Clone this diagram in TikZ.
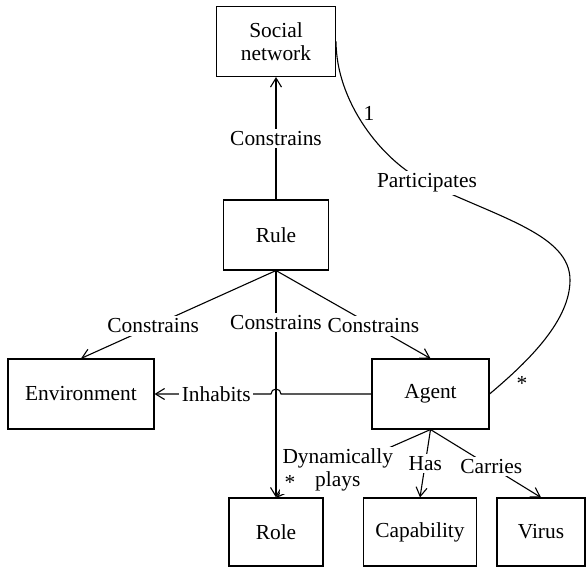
\documentclass[tikz,border=0pt]{standalone}
\usepackage{fontspec}
\setmainfont{Liberation Serif}
\usetikzlibrary{arrows.meta,positioning,calc}

\tikzset{
	box/.style={draw, line width=0.55pt, minimum height=35pt, align=center, inner sep=2pt},
	lbl/.style={fill=white, inner sep=1.2pt, align=center},
	link/.style={line width=0.55pt},
	arr/.style={link, -{Straight Barb[length=4.5pt,width=5.5pt]}}
}

\begin{document}
\begin{tikzpicture}[x=0.5pt,y=-0.5pt,font=\fontsize{10.7}{11.5}\selectfont]
		\def\xMid{276}
		\def\xEnv{81}
		\def\xAgent{430.5}
		\def\xCap{420}
		\def\xVirus{541}
		\def\ySocial{41.5}
		\def\yRule{235}
		\def\yAgent{394}
		\def\yBottom{532}
		\def\HopR{2.5pt}

\useasboundingbox (0,0) rectangle (588,567);

\node[box, minimum width=59.5pt] (social) at (\xMid,\ySocial) {Social\\network};
\node[box, minimum width=52.5pt] (rule) at (\xMid,\yRule) {Rule};
\node[box, minimum width=73pt] (env) at (\xEnv,\yAgent) {Environment};
\node[box, minimum width=58.5pt] (agent) at (\xAgent,\yAgent) {Agent};
\node[box, minimum width=47pt, minimum height=34pt] (role) at (\xMid,\yBottom) {Role};
\node[box, minimum width=56.5pt, minimum height=34pt] (capability) at (\xCap,\yBottom) {Capability};
\node[box, minimum width=44pt, minimum height=34pt] (virus) at (\xVirus,\yBottom) {Virus};

\draw[arr] (rule) -- node[lbl] {Constrains} (social);
\draw[arr] (rule.south) -- node[lbl, pos=0.63] {Constrains} (env.north);
\draw[arr] (rule.south) -- node[lbl, pos=0.23] {Constrains} (role.north);
\draw[arr] (rule.south) -- node[lbl, pos=0.63] {Constrains} (agent.north);

\draw[arr] (agent.west) -- (\xMid+5,\yAgent) arc[start angle=0, end angle=180, radius=\HopR] -- node[lbl, pos=0.47] {Inhabits} (env.east);

\draw[link] (social.east) .. controls (336,100) and (380,160) .. (427,183) node[lbl] (part) {Participates}
	.. controls (500,218) and (570,235) .. (570,280) .. controls (570,320) and (530,360) .. (agent.east);
\node (one) at (369,113) {1};
\node (many) at (522,383) {*};

\draw[arr] (agent.south) -- node[lbl, pos=0.6] {Dynamically\\plays} (role.north);
\draw[arr] (agent.south) -- node[lbl] {Has} (capability.north);
\draw[arr] (agent.south) -- node[lbl, pos=0.55] {Carries} (virus.north);
\node (roleMany) at (290,482) {*};

\end{tikzpicture}
\end{document}
